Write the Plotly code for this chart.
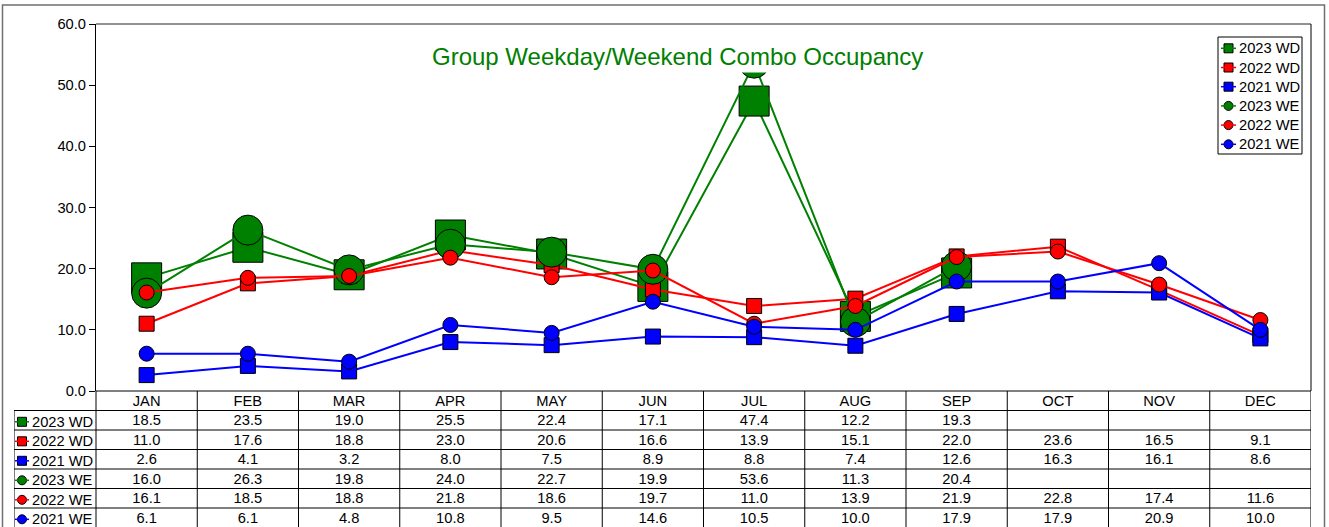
import plotly.graph_objects as go

# ---- data -------------------------------------------------------------
months = ["JAN", "FEB", "MAR", "APR", "MAY", "JUN",
          "JUL", "AUG", "SEP", "OCT", "NOV", "DEC"]

series_names = ["2023 WD", "2022 WD", "2021 WD", "2023 WE", "2022 WE", "2021 WE"]

wd_2023 = [18.5, 23.5, 19.0, 25.5, 22.4, 17.1, 47.4, 12.2, 19.3, None, None, None]
wd_2022 = [11.0, 17.6, 18.8, 23.0, 20.6, 16.6, 13.9, 15.1, 22.0, 23.6, 16.5, 9.1]
wd_2021 = [2.6, 4.1, 3.2, 8.0, 7.5, 8.9, 8.8, 7.4, 12.6, 16.3, 16.1, 8.6]
we_2023 = [16.0, 26.3, 19.8, 24.0, 22.7, 19.9, 53.6, 11.3, 20.4, None, None, None]
we_2022 = [16.1, 18.5, 18.8, 21.8, 18.6, 19.7, 11.0, 13.9, 21.9, 22.8, 17.4, 11.6]
we_2021 = [6.1, 6.1, 4.8, 10.8, 9.5, 14.6, 10.5, 10.0, 17.9, 17.9, 20.9, 10.0]

y_ticks = [0, 10, 20, 30, 40, 50, 60]

series_values = [wd_2023, wd_2022, wd_2021, we_2023, we_2022, we_2021]

# ---- styling ----------------------------------------------------------
W, H = 1329, 527
FONT = "Liberation Sans, Arial, sans-serif"
FS = 14.7
GREEN, RED, BLUE = "#008000", "#FF0000", "#0000FF"
colors = [GREEN, RED, BLUE, GREEN, RED, BLUE]
symbols = ["square", "square", "square", "circle", "circle", "circle"]
sizes = [30, 15, 15, 30, 15, 15]

# layout geometry in pixels
PL, PR, PT, PB = 96, 1311, 24, 391          # plot area
TL = 14                                     # table label column left edge
ROW_H = 19.5                                # table row height
COL_W = (PR - PL) / 12
label_w = (PL - TL) / COL_W
tbl_bottom = -0.5 + (H - PB) / ROW_H
TXT_DY = 0.08                               # baseline nudge for cell text

x_idx = list(range(len(months)))

fig = go.Figure()

# ---- chart lines ------------------------------------------------------
for name, vals, c, sym, sz in zip(series_names, series_values, colors, symbols, sizes):
    fig.add_trace(go.Scatter(
        x=x_idx, y=vals, name=name, mode="lines+markers",
        line=dict(color=c, width=2),
        marker=dict(symbol=sym, size=sz, color=c, line=dict(color="black", width=1)),
        connectgaps=False, showlegend=False, cliponaxis=False,
        xaxis="x", yaxis="y",
    ))

# ---- data table -------------------------------------------------------
fig.add_trace(go.Scatter(
    x=x_idx, y=[0 + TXT_DY] * 12, text=months, mode="text",
    textfont=dict(family=FONT, size=FS, color="black"),
    showlegend=False, xaxis="x2", yaxis="y2", hoverinfo="skip",
))
for r, vals in enumerate(series_values, start=1):
    fig.add_trace(go.Scatter(
        x=x_idx, y=[r + TXT_DY] * 12,
        text=["" if v is None else f"{v:.1f}" for v in vals],
        mode="text",
        textfont=dict(family=FONT, size=FS, color="black"),
        showlegend=False, xaxis="x2", yaxis="y2", hoverinfo="skip",
    ))

shapes = []
line_k = dict(color="black", width=1)

# table grid (table axis units)
left = -0.5 - label_w
for r in range(1, 7):
    shapes.append(dict(type="line", xref="x2", yref="y2",
                       x0=left, x1=11.5, y0=r - 0.5, y1=r - 0.5, line=line_k))
for k in range(13):
    shapes.append(dict(type="line", xref="x2", yref="y2",
                       x0=k - 0.5, x1=k - 0.5, y0=-0.5, y1=tbl_bottom, line=line_k))
shapes.append(dict(type="line", xref="x2", yref="y2",
                   x0=left, x1=left, y0=0.5, y1=tbl_bottom, line=line_k))

# row labels with series keys
icon_x = left + 8 / COL_W
for r, (name, c, sym) in enumerate(zip(series_names, colors, symbols), start=1):
    shapes.append(dict(type="line", xref="x2", yref="y2",
                       x0=left + 1 / COL_W, x1=left + 15 / COL_W, y0=r + TXT_DY, y1=r + TXT_DY,
                       line=dict(color=c, width=1.5)))
    fig.add_trace(go.Scatter(
        x=[icon_x], y=[r + TXT_DY], mode="markers",
        marker=dict(symbol=sym, size=9, color=c, line=dict(color="black", width=1)),
        showlegend=False, xaxis="x2", yaxis="y2", hoverinfo="skip",
    ))
    fig.add_annotation(x=left + 16 / COL_W, y=r + TXT_DY, xref="x2", yref="y2",
                       text=name, showarrow=False, xanchor="left", yanchor="middle",
                       font=dict(family=FONT, size=FS, color="black"))

# ---- legend box (pixel overlay) --------------------------------------
LX0, LX1, LY0 = 1218, 1302, 37
leg_rows = [48.3, 67.5, 86.7, 105.9, 125.1, 144.3]
shapes.append(dict(type="rect", xref="x3", yref="y3", x0=LX0, x1=LX1, y0=LY0, y1=154,
                   fillcolor="white", line=line_k, layer="below"))
for yy, name, c, sym in zip(leg_rows, series_names, colors, symbols):
    shapes.append(dict(type="line", xref="x3", yref="y3", x0=1221, x1=1236, y0=yy, y1=yy,
                       line=dict(color=c, width=1.5)))
    fig.add_trace(go.Scatter(
        x=[1228.5], y=[yy], mode="markers",
        marker=dict(symbol=sym, size=9, color=c, line=dict(color="black", width=1)),
        showlegend=False, xaxis="x3", yaxis="y3", hoverinfo="skip",
    ))
    fig.add_annotation(x=1236.5, y=yy, xref="x3", yref="y3", text=name,
                       showarrow=False, xanchor="left", yanchor="middle",
                       font=dict(family=FONT, size=FS, color="black"))

# plot frame and outer border
shapes.append(dict(type="line", xref="x3", yref="y3", x0=PL, x1=PR, y0=PT, y1=PT,
                   line=dict(color="#6e6e6e", width=1.5)))
shapes.append(dict(type="line", xref="x3", yref="y3", x0=PR, x1=PR, y0=PT, y1=PB,
                   line=line_k))
shapes.append(dict(type="line", xref="x3", yref="y3", x0=PL, x1=PR, y0=PB, y1=PB,
                   line=line_k))
shapes.append(dict(type="rect", xref="x3", yref="y3", x0=2.5, x1=1324.5, y0=5, y1=540,
                   line=dict(color="#707070", width=1.5)))

# title
fig.add_annotation(x=677, y=56, xref="x3", yref="y3",
                   text="Group Weekday/Weekend Combo Occupancy",
                   showarrow=False, xanchor="center", yanchor="middle",
                   bgcolor="white", borderpad=2,
                   font=dict(family=FONT, size=24, color=GREEN))

fig.update_layout(
    width=W, height=H,
    margin=dict(l=0, r=0, t=0, b=0, autoexpand=False),
    paper_bgcolor="white", plot_bgcolor="rgba(0,0,0,0)",
    showlegend=False,
    shapes=shapes,
    xaxis=dict(domain=[PL / W, PR / W], range=[-0.5, 11.5], anchor="y",
               showticklabels=False, showgrid=False, zeroline=False, ticks="",
               automargin=False),
    yaxis=dict(domain=[(H - PB) / H, (H - PT) / H], range=[0, 60], anchor="x",
               tickvals=y_ticks, ticktext=[f"{v:.1f}" for v in y_ticks],
               ticks="outside", ticklen=6, tickcolor="black",
               showline=True, linecolor="black", linewidth=1,
               showgrid=False, zeroline=False, automargin=False,
               tickfont=dict(family=FONT, size=FS, color="black")),
    xaxis2=dict(domain=[TL / W, PR / W], range=[left, 11.5], anchor="y2",
                visible=False, automargin=False),
    yaxis2=dict(domain=[0, (H - PB) / H], range=[tbl_bottom, -0.5], anchor="x2",
                visible=False, automargin=False),
    xaxis3=dict(domain=[0, 1], range=[0, W], anchor="y3", visible=False, automargin=False),
    yaxis3=dict(domain=[0, 1], range=[H, 0], anchor="x3", visible=False, automargin=False),
)

fig.write_html("out.html")
